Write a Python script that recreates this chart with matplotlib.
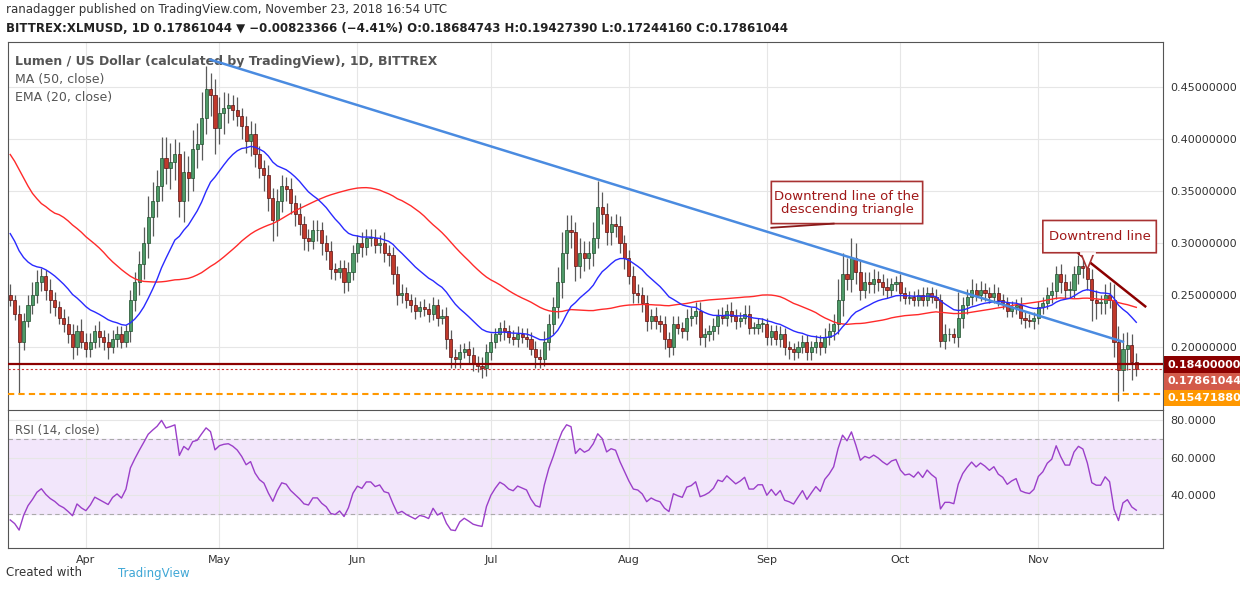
import matplotlib
matplotlib.use("Agg")
import matplotlib.pyplot as plt
from matplotlib.patches import FancyBboxPatch, Rectangle, Polygon
import numpy as np
import pandas as pd

# daily closes, Mar 15 -> Nov 23 2018
mar = [0.245,0.232,0.205,0.225,0.240,0.250,0.262,0.268,0.255,0.245,0.238,0.228,0.222,0.212,0.200,0.215,0.205]
apr = [0.198,0.205,0.215,0.210,0.205,0.200,0.208,0.212,0.205,0.215,0.245,0.262,0.280,0.300,0.325,0.340,0.355,0.382,0.372,0.378,
       0.385,0.340,0.368,0.362,0.390,0.395,0.420,0.448,0.442,0.410]
may = [0.425,0.430,0.432,0.428,0.422,0.412,0.398,0.405,0.385,0.372,0.365,0.343,0.322,0.340,0.355,0.352,0.338,0.328,0.318,0.305,
       0.302,0.312,0.312,0.300,0.292,0.275,0.272,0.276,0.262,0.272,0.290]
jun = [0.300,0.296,0.305,0.305,0.298,0.300,0.290,0.288,0.270,0.250,0.252,0.245,0.240,0.235,0.238,0.236,0.232,0.240,0.228,0.230,
       0.208,0.190,0.188,0.195,0.198,0.192,0.185,0.182,0.180,0.195]
jul = [0.205,0.212,0.218,0.215,0.210,0.208,0.212,0.210,0.208,0.198,0.190,0.188,0.205,0.222,0.238,0.262,0.290,0.312,0.310,0.278,
       0.290,0.285,0.290,0.305,0.334,0.328,0.310,0.318,0.316,0.300,0.285]
aug = [0.268,0.252,0.250,0.242,0.225,0.230,0.225,0.222,0.208,0.200,0.222,0.218,0.215,0.228,0.230,0.235,0.210,0.212,0.215,0.220,
       0.230,0.228,0.235,0.230,0.225,0.228,0.232,0.218,0.218,0.222,0.222]
sep = [0.210,0.215,0.208,0.212,0.200,0.198,0.195,0.200,0.205,0.195,0.200,0.205,0.200,0.210,0.215,0.222,0.245,0.270,0.265,0.285,
       0.272,0.255,0.262,0.260,0.265,0.262,0.258,0.255,0.260,0.262]
oct_ = [0.252,0.247,0.248,0.245,0.250,0.245,0.252,0.248,0.245,0.206,0.212,0.212,0.210,0.228,0.240,0.248,0.255,0.250,0.255,0.252,
        0.248,0.252,0.245,0.242,0.235,0.238,0.240,0.228,0.226,0.225,0.228]
nov = [0.238,0.242,0.250,0.254,0.270,0.262,0.255,0.255,0.270,0.278,0.276,0.265,0.245,0.242,0.242,0.250,0.245,0.205,0.178,0.198,
       0.202,0.186,0.1786]

# upper / lower wick sizes in 0.001 units
up_w = [10,5,8,8,10,12,12,8,6,10,8,6,8,8,10,6,12,
        8,8,6,10,6,8,8,8,8,6,10,10,12,15,20,18,15,20,20,18,15,12,20,15,18,20,25,22,15,15,
        15,15,12,10,12,8,10,12,10,8,8,10,10,12,10,8,10,8,10,8,8,10,10,8,8,10,6,8,8,10,8,
        8,10,8,8,8,8,10,8,8,8,8,6,6,8,6,8,6,8,6,6,8,8,8,8,6,8,8,6,8,8,
        8,6,6,8,6,6,8,6,8,6,8,8,10,10,10,15,20,15,15,10,15,12,12,15,25,15,10,8,10,10,8,
        8,10,8,8,8,6,8,6,8,6,8,8,6,8,8,8,8,6,6,8,6,8,6,8,6,6,8,8,6,6,6,
        6,6,6,8,6,6,6,6,6,6,6,6,6,8,8,10,20,20,15,20,15,12,10,10,10,8,8,8,6,6,
        8,6,6,6,6,8,6,6,8,6,10,6,6,25,8,8,10,6,8,6,6,8,6,6,6,6,6,8,6,6,6,
        6,6,8,8,8,10,8,8,8,10,15,10,10,10,8,10,12,15,15,15,12,10,10]
dn_w = [6,6,50,8,6,8,8,8,10,12,8,6,8,8,12,8,6,
        8,8,6,10,8,12,6,8,6,5,10,10,12,15,15,18,15,15,15,20,18,15,20,22,12,18,15,15,20,25,
        15,20,15,10,10,12,12,15,12,10,15,12,20,15,10,12,10,12,10,12,10,8,10,12,8,10,8,6,10,8,8,
        8,10,8,8,8,8,8,10,10,10,8,8,6,8,6,6,8,6,8,6,10,10,8,8,6,8,8,6,10,8,
        8,6,6,8,6,6,8,6,8,6,10,8,6,8,10,10,15,15,15,15,12,12,10,12,10,10,12,12,10,10,10,
        8,10,8,8,10,8,8,8,10,10,8,6,6,8,8,8,8,10,6,8,8,6,8,6,8,6,6,6,6,6,8,
        8,8,6,8,8,10,8,6,6,8,8,6,8,6,8,8,10,15,10,12,12,10,8,8,8,8,8,8,6,6,
        8,6,6,6,6,6,6,6,8,6,8,6,6,10,10,8,8,6,6,8,6,6,6,6,6,6,6,6,8,6,8,
        6,6,6,8,8,10,8,8,8,10,10,10,20,15,10,10,8,15,30,20,20,18,10]

# closes before the visible window (Jan 24 -> Mar 14), only for the indicators
prior = [0.55,0.56,0.60,0.62,0.64,0.60,0.52,0.50,0.40,0.42,0.38,0.30,0.35,0.38,0.40,0.38,0.39,0.41,0.38,0.39,
         0.40,0.42,0.44,0.42,0.40,0.39,0.38,0.40,0.38,0.36,0.35,0.34,0.35,0.36,0.37,0.35,0.34,0.35,0.33,0.34,
         0.33,0.32,0.30,0.31,0.30,0.29,0.28,0.27,0.26,0.25]

month_labels = ["Apr", "May", "Jun", "Jul", "Aug", "Sep", "Oct", "Nov"]
month_starts = [17, 47, 78, 108, 139, 170, 200, 231]

closes = np.array(mar + apr + may + jun + jul + aug + sep + oct_ + nov)
assert len(closes) == len(up_w) == len(dn_w) == 254
opens = np.concatenate([[prior[-1]], closes[:-1]])
highs = np.maximum(opens, closes) + np.array(up_w) / 1000
lows = np.minimum(opens, closes) - np.array(dn_w) / 1000
lows[-1] = 0.17244
highs[-1] = 0.19427

full = pd.Series(prior + list(closes))
n0 = len(prior)
ema20 = full.ewm(span=20, adjust=False).mean().values[n0:]
ma50 = full.rolling(50, min_periods=1).mean().values[n0:]
delta = full.diff()
gain = delta.clip(lower=0).ewm(alpha=1/14, adjust=False).mean()
loss = (-delta.clip(upper=0)).ewm(alpha=1/14, adjust=False).mean()
rsi = (100 - 100 / (1 + gain / loss)).values[n0:]

x = np.arange(len(closes))
W, H = 1240, 590
fig = plt.figure(figsize=(12.4, 5.9), dpi=100)
ax = fig.add_axes([8/W, 180/H, 1155/W, 368/H])
ax2 = fig.add_axes([8/W, 42/H, 1155/W, 138/H])
xlim = (-0.5, 259)
grid_c = "#e6e6e6"

for a in (ax, ax2):
    a.set_xlim(*xlim)
    a.yaxis.tick_right()
    a.set_xticks(month_starts)
    a.grid(True, color=grid_c, lw=0.8)
    a.set_axisbelow(True)
    for s in a.spines.values():
        s.set_color("#555555")
    a.tick_params(length=0, labelsize=8, colors="#333333", pad=5)

ax.set_ylim(0.1394, 0.493)
ax.set_yticks([0.20, 0.25, 0.30, 0.35, 0.40, 0.45])
ax.set_yticklabels([f"{v:.8f}" for v in [0.20, 0.25, 0.30, 0.35, 0.40, 0.45]])
ax.set_xticklabels([])
ax.spines["bottom"].set_visible(False)

green, red = "#4e9a68", "#c0392b"
for i in x:
    up = closes[i] >= opens[i]
    ax.vlines(i, lows[i], highs[i], color="#5a5a5a", lw=0.9, zorder=2)
    b0 = min(opens[i], closes[i])
    h = max(abs(closes[i] - opens[i]), 0.0008)
    ax.add_patch(Rectangle((i - 0.35, b0), 0.7, h, facecolor=green if up else red,
                           edgecolor="#1e4d2b" if up else "#5a1010", lw=0.5, zorder=3))

ax.plot(x, ma50, color="#ff2a2a", lw=1.0, zorder=4)
ax.plot(x, ema20, color="#2a2aff", lw=1.0, zorder=4)

# descending triangle line
ax.plot([45, 250], [0.476, 0.205], color="#4a8be0", lw=1.8, zorder=5)
# short downtrend line
ax.plot([240, 255], [0.290, 0.239], color="#8b0000", lw=1.8, zorder=5)

ax.axhline(0.184, color="#8b0000", lw=1.6, zorder=5)
ax.axhline(0.17861044, color="#d03030", lw=0.8, ls=(0, (2, 2)), zorder=5)
ax.axhline(0.1547188, color="#ff9800", lw=1.5, ls=(0, (3, 2)), zorder=5)

# price tags on the right, stacked so they do not collide
for val, ypos, col in [(0.184, 0.1830, "#8b0000"), (0.17861044, 0.1668, "#d35a4a"), (0.1547188, 0.1508, "#ff9800")]:
    ax.text(1.004, ypos, f"{val:.8f}", transform=ax.get_yaxis_transform(), ha="left", va="center",
            fontsize=8, color="white", weight="bold", clip_on=False,
            bbox=dict(boxstyle="square,pad=0.3", fc=col, ec="none"))

# callouts
def callout(ax, x0, y0, w, h, text):
    box = FancyBboxPatch((x0, y0), w, h, boxstyle="round,pad=0,rounding_size=0.008",
                         mutation_aspect=1, transform=ax.transData, fc="white", ec="#a83232", lw=1.2, zorder=6)
    ax.add_patch(box)
    ax.text(x0 + w / 2, y0 + h / 2, text, ha="center", va="center", color="#a01818", fontsize=9.5, zorder=7,
            linespacing=1.0)

callout(ax, 171, 0.3185, 34, 0.0405, "Downtrend line of the\ndescending triangle")
ax.plot([171, 185], [0.3145, 0.3185], color="#8b1a1a", lw=1.3, zorder=6)
callout(ax, 232, 0.2905, 25.5, 0.031, "Downtrend line")
ax.add_patch(Polygon([[240.5, 0.2905], [243.5, 0.2905], [242, 0.2745]], closed=True, fc="white",
                     ec="#a83232", lw=1.2, zorder=6))
ax.plot([240.6, 243.4], [0.2905, 0.2905], color="white", lw=2, zorder=7)

ax.text(0.006, 0.965, "Lumen / US Dollar (calculated by TradingView), 1D, BITTREX", transform=ax.transAxes,
        fontsize=9, color="#555555", weight="bold", va="top")
ax.text(0.006, 0.915, "MA (50, close)", transform=ax.transAxes, fontsize=9, color="#555555", va="top")
ax.text(0.006, 0.868, "EMA (20, close)", transform=ax.transAxes, fontsize=9, color="#555555", va="top")

# RSI panel
ax2.set_ylim(12.1, 85.3)
ax2.set_yticks([40, 60, 80])
ax2.set_yticklabels(["40.0000", "60.0000", "80.0000"])
ax2.set_xticklabels(month_labels)
ax2.fill_between(xlim, 30, 70, color="#f2e6fb", zorder=0)
ax2.axhline(70, color="#aaaaaa", lw=0.8, ls=(0, (4, 3)))
ax2.axhline(30, color="#aaaaaa", lw=0.8, ls=(0, (4, 3)))
ax2.plot(x, rsi, color="#9b3fc9", lw=1.0)
ax2.text(0.006, 0.9, "RSI (14, close)", transform=ax2.transAxes, fontsize=8.5, color="#555555", va="top")

fig.text(6/W, 1 - 10/H, "ranadagger published on TradingView.com, November 23, 2018 16:54 UTC",
         fontsize=8.5, color="#333333", va="center")
fig.text(6/W, 1 - 29/H, "BITTREX:XLMUSD, 1D 0.17861044 \u25bc \u22120.00823366 (\u22124.41%) O:0.18684743 H:0.19427390 L:0.17244160 C:0.17861044",
         fontsize=8.5, color="#222222", weight="bold", va="center")
fig.text(6/W, 1 - 573/H, "Created with", fontsize=8.5, color="#333333", va="center")
fig.text(118/W, 1 - 573/H, "TradingView", fontsize=8.5, color="#3fa7d6", va="center")

fig.savefig("out.png", dpi=100, facecolor="white")
